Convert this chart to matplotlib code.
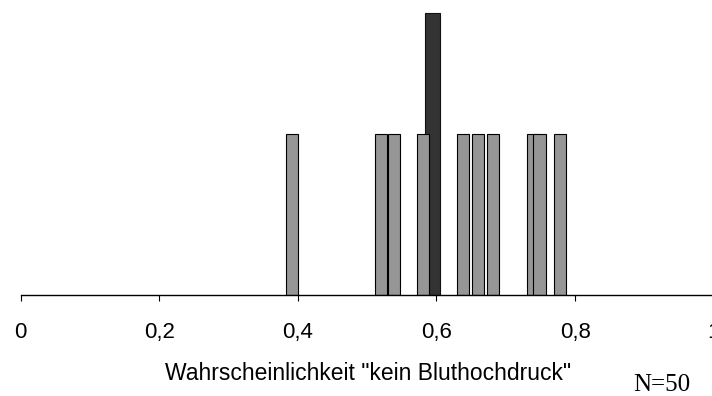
import matplotlib.pyplot as plt
import numpy as np

# probability values of the single cases (gray bars) and the marked value (dark bar)
werte = [0.3915, 0.520, 0.539, 0.5805, 0.638, 0.6596, 0.6815, 0.7388, 0.7486, 0.778]
hoehen = [1, 1, 1, 1, 1, 1, 1, 1, 1, 1]
markiert_wert = [0.5945]
markiert_hoehe = [1.755]

tick_werte = [0, 0.2, 0.4, 0.6, 0.8, 1]
tick_texte = ["0", "0,2", "0,4", "0,6", "0,8", "1"]

plt.rcParams['font.family'] = ['Liberation Sans', 'DejaVu Sans']

fig = plt.figure(figsize=(7.12, 3.96), dpi=100)
# axis runs a little past the right edge, like in the original
ax = fig.add_axes([20.7 / 712, (396 - 294.7) / 396, (713.7 - 20.7) / 712, 294.7 / 396])

ax.bar(markiert_wert, markiert_hoehe, width=0.021, color='#333333',
       edgecolor='#111111', linewidth=0.8, zorder=1)
ax.bar(werte, hoehen, width=0.0175, color='#969696',
       edgecolor='#000000', linewidth=0.8, zorder=2)

ax.set_xlim(0, 1)
ax.set_ylim(0, 294.7 / 160.7)

for s in ['left', 'right', 'top']:
    ax.spines[s].set_visible(False)
ax.spines['bottom'].set_linewidth(1.0)
ax.spines['bottom'].set_clip_on(False)

ax.set_yticks([])
ax.set_xticks(tick_werte)
ax.set_xticklabels(tick_texte, fontsize=16)
ax.tick_params(axis='x', direction='out', length=4.5, width=0.8, pad=15)
for lab in ax.get_xticklabels():
    lab.set_clip_on(False)

fig.text(368.5 / 712, (396 - 380) / 396, 'Wahrscheinlichkeit "kein Bluthochdruck"',
         fontsize=16.5, ha='center', va='baseline')
fig.text(662 / 712, (396 - 391) / 396, 'N=50', fontsize=18,
         family='Liberation Serif', ha='center', va='baseline')

fig.savefig('out.png', dpi=100)
